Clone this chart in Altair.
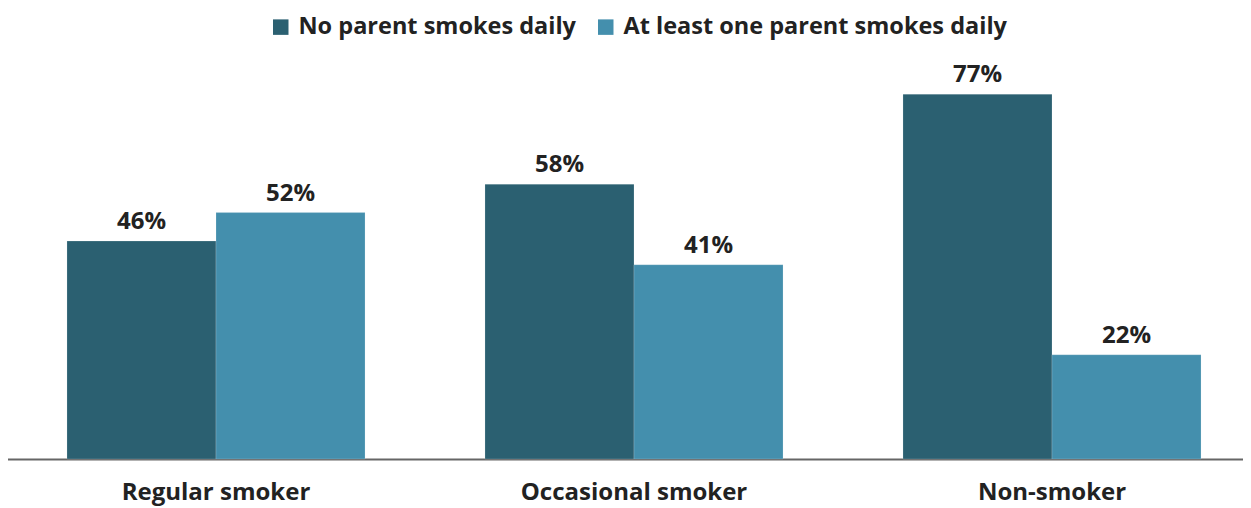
import altair as alt
import pandas as pd

categories = ["Regular smoker", "Occasional smoker", "Non-smoker"]
series = ["No parent smokes daily", "At least one parent smokes daily"]
no_parent = [46, 58, 77]
one_parent = [52, 41, 22]
colors = ["#2B6071", "#448FAD"]

rows = []
for i, c in enumerate(categories):
    rows.append({"cat": c, "series": series[0], "value": no_parent[i], "label": f"{no_parent[i]}%"})
    rows.append({"cat": c, "series": series[1], "value": one_parent[i], "label": f"{one_parent[i]}%"})
df = pd.DataFrame(rows)

FONT = "Open Sans"

x = alt.X("cat:N", sort=categories, title=None,
          scale=alt.Scale(paddingInner=0.287, paddingOuter=0.1435),
          axis=alt.Axis(labelAngle=0, ticks=False, domainColor="#666666", domainWidth=2,
                        labelFont=FONT, labelFontSize=24, labelFontWeight="bold",
                        labelColor="#222222", labelPadding=21, labelLimit=0))
xo = alt.XOffset("series:N", sort=series, scale=alt.Scale(paddingInner=0, paddingOuter=0))
y = alt.Y("value:Q", scale=alt.Scale(domain=[0, 84], nice=False), axis=None)

bars = alt.Chart(df).mark_bar(stroke="#ffffff", strokeOpacity=0.35, strokeWidth=0.5).encode(
    x=x, xOffset=xo, y=y,
    color=alt.Color("series:N", sort=series,
                    scale=alt.Scale(domain=series, range=colors),
                    legend=alt.Legend(title=None, orient="none", direction="horizontal",
                                      legendX=262, legendY=-46, padding=0,
                                      symbolType="square", symbolSize=240, symbolStrokeWidth=0,
                                      labelFont=FONT, labelFontSize=23.5, labelFontWeight="bold",
                                      labelColor="#222222", labelOffset=6, columnPadding=18,
                                      labelLimit=0)),
)

text = alt.Chart(df).mark_text(font=FONT, fontSize=24, fontWeight="bold", color="#222222",
                               baseline="alphabetic", dy=-12).encode(
    x=x, xOffset=xo, y=y, text="label:N"
)

chart = (bars + text).properties(
    width=1254, height=398,
    autosize=alt.AutoSizeParams(type="none"),
    padding={"left": -1, "top": 53, "right": -18, "bottom": 47},
).configure_view(stroke=None)

chart.save("out.html", embed_options={"renderer": "svg", "actions": False})
